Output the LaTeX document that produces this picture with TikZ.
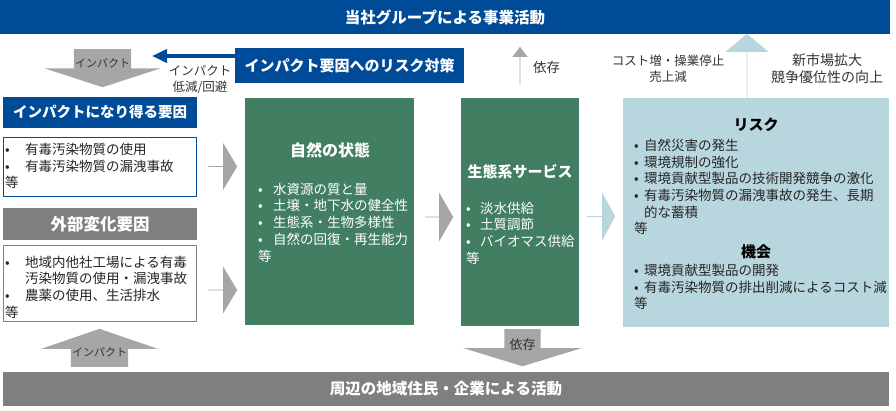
\documentclass[tikz,border=0pt]{standalone}
\usepackage{fontspec}
\setmainfont{Noto Sans CJK JP}
\usetikzlibrary{shapes.arrows}
\usetikzlibrary{arrows.meta}
\usetikzlibrary{positioning}

\definecolor{corpblue}{RGB}{0,75,151}
\definecolor{natgreen}{RGB}{65,126,98}
\definecolor{paleblue}{RGB}{184,214,221}
\definecolor{bargray}{RGB}{127,127,127}
\definecolor{arrowgray}{RGB}{166,166,166}

\newcommand{\bul}[1][20pt]{\makebox[#1][l]{\textbullet}}

\begin{document}
\begin{tikzpicture}[
    x=1pt, y=-1pt,
    >=latex,
    every node/.style={inner sep=0pt},
    bar/.style={minimum height=34pt, text=white, font=\bfseries\fontsize{15.5}{18}\selectfont},
    headbox/.style={text=white, font=\bfseries\fontsize{14.5}{17}\selectfont},
    listbox/.style={fill=white, line width=1.3pt},
    state/.style={fill=natgreen},
    statetitle/.style={text=white, font=\bfseries\fontsize{16}{19}\selectfont},
    body/.style={align=left, anchor=west, font=\fontsize{13.5}{16.7}\selectfont, text=black!85},
    whitebody/.style={body, text=white},
    note/.style={align=center, font=\fontsize{12.5}{16}\selectfont, text=black!80},
    bigarrow/.style={single arrow, single arrow head indent=0pt, anchor=tail, draw=none},
    grayarrow/.style={bigarrow, fill=arrowgray, text=black!80, font=\fontsize{11}{13}\selectfont},
    palearrow/.style={bigarrow, fill=paleblue}
]
\useasboundingbox (0,0) rectangle (896,410);

% top and bottom bars
\node[bar, fill=corpblue, minimum width=890pt] (corp) at (445,17) {当社グループによる事業活動};
\node[bar, fill=bargray, minimum width=886pt] (local) at (446,389) {周辺の地域住民・企業による活動};

% risk measures
\node[headbox, fill=corpblue, minimum width=229pt, minimum height=35pt, font=\bfseries\fontsize{15}{18}\selectfont] (measure) at (349.5,65.5) {インパクト要因へのリスク対策};
\coordinate (lowerTip) at (152,56);
\draw[corpblue, line width=4pt, -{Triangle[length=15pt,width=13pt]}] (measure.west |- lowerTip) -- (lowerTip);
\node[note] (reduceLbl) at (200,80) {インパクト\\低減/回避};

% impact factors
\node[headbox, fill=corpblue, minimum width=194pt, minimum height=31pt] (factorT) at (100,112.5) {インパクトになり得る要因};
\node[listbox, draw=corpblue, minimum width=193pt, minimum height=59pt] (factorB) at (100,167) {};
\node[body] (factorTxt) at (5,166) {\bul 有毒汚染物質の使用\\\bul 有毒汚染物質の漏洩事故\\等};

\node[headbox, fill=bargray, minimum width=194pt, minimum height=32pt, font=\bfseries\fontsize{16.5}{19}\selectfont] (extT) at (100,224) {外部変化要因};
\node[listbox, draw=bargray, minimum width=193pt, minimum height=76pt] (extB) at (100,283.5) {};
\node[body] (extTxt) at (5,287) {\bul 地域内他社工場による有毒\\\hspace*{20pt}汚染物質の使用・漏洩事故\\\bul 農薬の使用、生活排水\\等};

% nature and ecosystem services
\node[state, minimum width=169pt, minimum height=227pt] (nature) at (329.5,211.5) {};
\node[statetitle] (natureT) at (330,150) {自然の状態};
\node[whitebody] (natureTxt) at (258,222.5) {\bul[15pt]水資源の質と量\\\bul[15pt]土壌・地下水の健全性\\\bul[15pt]生態系・生物多様性\\\bul[15pt]自然の回復・再生能力\\等};

\node[state, minimum width=118pt, minimum height=228pt] (service) at (520,212) {};
\node[statetitle, font=\bfseries\fontsize{15}{18}\selectfont] (serviceT) at (520,172) {生態系サービス};
\node[whitebody] (serviceTxt) at (466,233) {\bul[14pt]淡水供給\\\bul[14pt]土質調節\\\bul[14pt]バイオマス供給\\等};

% risks and opportunities
\node[fill=paleblue, minimum width=266pt, minimum height=229pt] (risk) at (756,212.5) {};
\node[statetitle, text=black, font=\bfseries\fontsize{15}{18}\selectfont] (riskT) at (756,125) {リスク};
\node[body] (riskTxt) at (634,187) {\bul[10pt]自然災害の発生\\\bul[10pt]環境規制の強化\\\bul[10pt]環境貢献型製品の技術開発競争の激化\\\bul[10pt]有毒汚染物質の漏洩事故の発生、長期\\\hspace*{10pt}的な蓄積\\等};
\node[statetitle, text=black, font=\bfseries\fontsize{15}{18}\selectfont] (chanceT) at (756,252) {機会};
\node[body] (chanceTxt) at (634,287) {\bul[10pt]環境貢献型製品の開発\\\bul[10pt]有毒汚染物質の排出削減によるコスト減\\等};

% block arrows
\node[grayarrow, shape border rotate=270, minimum height=38pt, minimum width=116pt, single arrow head extend=28.5pt, single arrow tip angle=144] (impactDown) at (102.5,49) {インパクト};
\node[grayarrow, shape border rotate=90, minimum height=38pt, minimum width=117pt, single arrow head extend=29pt, single arrow tip angle=142] (impactUp) at (99.5,367) {インパクト};
\node[grayarrow, minimum height=29pt, minimum width=47pt, single arrow head extend=10pt, single arrow tip angle=118] (toNatureA) at (208,166.5) {};
\node[grayarrow, minimum height=29pt, minimum width=47pt, single arrow head extend=10.5pt, single arrow tip angle=118] (toNatureB) at (208,290) {};
\node[grayarrow, minimum height=28pt, minimum width=49pt, single arrow head extend=11pt, single arrow tip angle=120] (toService) at (425,217) {};
\node[palearrow, minimum height=28pt, minimum width=48pt, single arrow head extend=10.5pt, single arrow tip angle=123] (toRisk) at (587,216.5) {};
\node[palearrow, shape border rotate=90, minimum height=64pt, minimum width=43pt, single arrow head extend=10.5pt, single arrow tip angle=100] (toCorp) at (747,98) {};
\node[grayarrow, shape border rotate=270, minimum height=37pt, minimum width=119pt, single arrow head extend=30pt, single arrow tip angle=146, font=\fontsize{13}{15}\selectfont] (dependDown) at (522.5,329) {依存};
\node[grayarrow, shape border rotate=90, minimum height=37pt, minimum width=15pt, single arrow head extend=4pt, single arrow tip angle=74] (dependUp) at (520,84) {};

% labels at the top
\node[note, anchor=west, font=\fontsize{13.5}{16}\selectfont] (dependLbl) at (533,67) {依存};
\node[note] (lossLbl) at (668,68.5) {コスト増・操業停止\\売上減};
\node[note, font=\fontsize{14}{17}\selectfont] (gainLbl) at (827,68.5) {新市場拡大\\競争優位性の向上};
\end{tikzpicture}
\end{document}
